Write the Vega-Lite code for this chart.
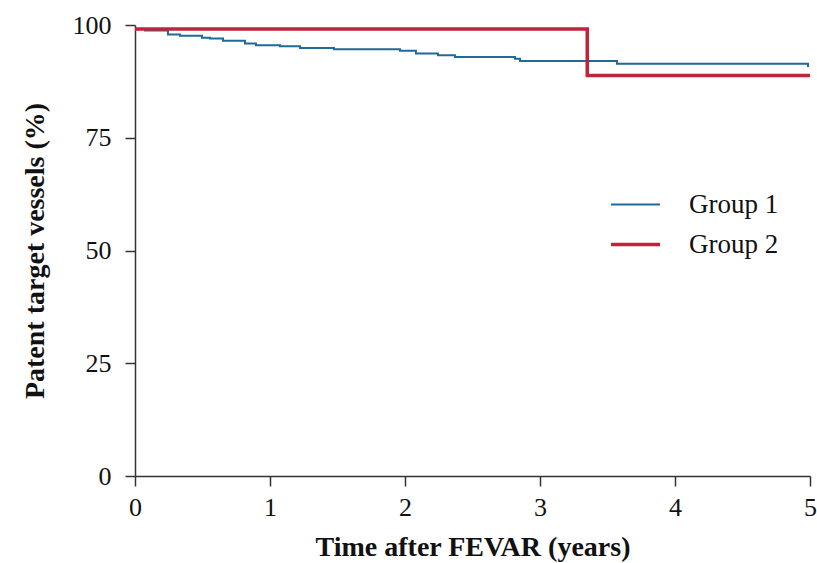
{
  "$schema": "https://vega.github.io/schema/vega-lite/v6.json",
  "autosize": "none",
  "width": 675,
  "height": 451,
  "padding": {"left": 135, "top": 25, "right": 7, "bottom": 87},
  "background": "white",
  "config": {
    "view": {"stroke": null},
    "font": "Liberation Serif"
  },
  "data": {
    "values": [
      {"t": 0, "p": 99.1, "g": "Group 1"},
      {"t": 0.074, "p": 98.8, "g": "Group 1"},
      {"t": 0.244, "p": 97.9, "g": "Group 1"},
      {"t": 0.333, "p": 97.6, "g": "Group 1"},
      {"t": 0.496, "p": 97.2, "g": "Group 1"},
      {"t": 0.556, "p": 97.0, "g": "Group 1"},
      {"t": 0.652, "p": 96.5, "g": "Group 1"},
      {"t": 0.815, "p": 95.9, "g": "Group 1"},
      {"t": 0.896, "p": 95.5, "g": "Group 1"},
      {"t": 1.074, "p": 95.3, "g": "Group 1"},
      {"t": 1.222, "p": 94.9, "g": "Group 1"},
      {"t": 1.474, "p": 94.6, "g": "Group 1"},
      {"t": 1.963, "p": 94.3, "g": "Group 1"},
      {"t": 2.081, "p": 93.7, "g": "Group 1"},
      {"t": 2.244, "p": 93.3, "g": "Group 1"},
      {"t": 2.370, "p": 92.9, "g": "Group 1"},
      {"t": 2.815, "p": 92.5, "g": "Group 1"},
      {"t": 2.852, "p": 92.0, "g": "Group 1"},
      {"t": 3.570, "p": 91.4, "g": "Group 1"},
      {"t": 4.985, "p": 90.7, "g": "Group 1"},
      {"t": 0, "p": 99.1, "g": "Group 2"},
      {"t": 3.35, "p": 88.8, "g": "Group 2"},
      {"t": 5, "p": 88.8, "g": "Group 2"}
    ]
  },
  "mark": {"type": "line", "interpolate": "step-after"},
  "encoding": {
    "x": {
      "field": "t", "type": "quantitative",
      "scale": {"domain": [0, 5], "nice": false, "zero": false},
      "axis": {
        "values": [0, 1, 2, 3, 4, 5], "format": "d", "grid": false, "labelFlush": false,
        "title": "Time after FEVAR (years)",
        "domainColor": "#333", "domainWidth": 1.5, "tickColor": "#333", "tickWidth": 1.5, "tickSize": 10,
        "labelFontSize": 26, "labelColor": "#111", "labelPadding": 8,
        "titleFontSize": 28, "titleFontWeight": "bold", "titleColor": "#111", "titlePadding": 13
      }
    },
    "y": {
      "field": "p", "type": "quantitative",
      "scale": {"domain": [0, 100], "nice": false},
      "axis": {
        "values": [0, 25, 50, 75, 100], "grid": false, "labelFlush": false,
        "title": "Patent target vessels (%)",
        "domainColor": "#333", "domainWidth": 1.5, "tickColor": "#333", "tickWidth": 1.5, "tickSize": 10,
        "labelFontSize": 26, "labelColor": "#111", "labelPadding": 14,
        "titleFontSize": 28, "titleFontWeight": "bold", "titleColor": "#111", "titlePadding": 23
      }
    },
    "color": {
      "field": "g", "type": "nominal",
      "scale": {"domain": ["Group 1", "Group 2"], "range": ["#1f6a98", "#c0233a"]},
      "legend": {
        "title": null, "orient": "none", "legendX": 474, "legendY": 154,
        "symbolType": "stroke", "symbolSize": 2401,
        "labelFontSize": 27, "labelColor": "#111", "labelOffset": 27, "rowPadding": -7
      }
    },
    "strokeWidth": {
      "field": "g", "type": "nominal",
      "scale": {"domain": ["Group 1", "Group 2"], "range": [2, 3.5]},
      "legend": {
        "title": null, "orient": "none", "legendX": 474, "legendY": 154,
        "symbolType": "stroke", "symbolSize": 2401,
        "labelFontSize": 27, "labelColor": "#111", "labelOffset": 27, "rowPadding": -7
      }
    }
  }
}
